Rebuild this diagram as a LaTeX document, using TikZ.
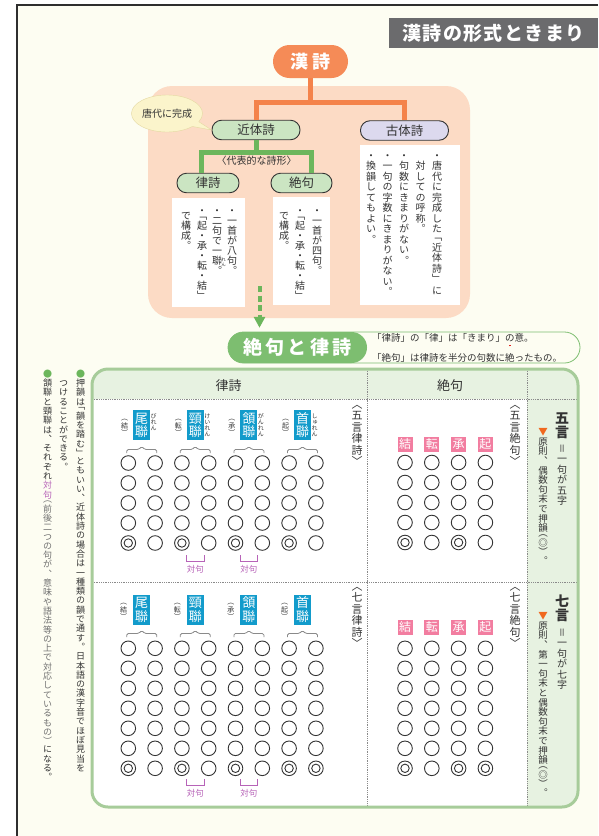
\documentclass[tikz,border=0pt]{standalone}
\usepackage{fontspec}
\setmainfont{Noto Sans CJK JP}
\newfontfamily\tate{Noto Sans CJK JP}[RawFeature=+vert]
\usetikzlibrary{arrows.meta,calc,positioning,shapes.callouts}
\definecolor{Paper}{HTML}{FDFDF2}
\definecolor{Ink}{HTML}{333333}
\definecolor{Frame}{HTML}{2E2E2E}
\definecolor{TitleGray}{HTML}{6B6B6D}
\definecolor{Orange}{HTML}{F4834B}
\definecolor{OrangePill}{HTML}{F58B57}
\definecolor{Peach}{HTML}{FCDBC5}
\definecolor{GreenPill}{HTML}{CBE5C2}
\definecolor{Lilac}{HTML}{DCD9EE}
\definecolor{Green}{HTML}{6CB65C}
\definecolor{GreenBand}{HTML}{7DBE70}
\definecolor{Bubble}{HTML}{FBF4CB}
\definecolor{BubbleEdge}{HTML}{E4D9A2}
\definecolor{TableLine}{HTML}{A7CC9A}
\definecolor{TableHead}{HTML}{E7F2E1}
\definecolor{Blue}{HTML}{129BCB}
\definecolor{Pink}{HTML}{F27DA0}
\definecolor{Purple}{HTML}{B763B8}
\definecolor{Mark}{HTML}{F0681E}
\definecolor{Dot}{HTML}{E3241D}
\definecolor{Muted}{HTML}{8A8A8A}
\definecolor{Soft}{HTML}{707070}

\makeatletter
% vertical (tategaki) text: one glyph per cell
\newdimen\vt@g
\def\vt@end{\vt@end}
\newcommand\vtext[2]{\vbox{\offinterlineskip\vt@g=\dimexpr(#1-1em)/2\relax
  \edef\vt@tmp{#2}\expandafter\vt@loop\vt@tmp\vt@end}}
\def\vt@loop#1{%
  \ifx\vt@end#1\expandafter\@gobble\else\expandafter\@firstofone\fi
  {\ifcat\relax\noexpand#1\expandafter#1\else\vt@char{#1}\expandafter\vt@loop\fi}}
\protected\def\vc#1{\color{#1}\vt@loop}
\protected\def\vsp#1{\kern#1\relax\vt@loop}
\def\vt@char#1{%
  \ifx#1「\vt@open{#1}\else\ifx#1（\vt@open{#1}\else\ifx#1〈\vt@open{#1}\else
  \ifx#1」\vt@close{#1}\else\ifx#1）\vt@close{#1}\else\ifx#1〉\vt@close{#1}\else
  \vt@full{#1}\fi\fi\fi\fi\fi\fi}
\def\vt@full#1{\hbox to1em{\hss\vrule width0pt height\dimexpr.88em+\vt@g\relax depth\dimexpr.12em+\vt@g\relax\smash{#1}\hss}}
\def\vt@open#1{\hbox to1em{\hss\vrule width0pt height.38em depth\dimexpr.12em+\vt@g\relax\smash{#1}\hss}}
\def\vt@close#1{\hbox to1em{\hss\vrule width0pt height\dimexpr.5em+\vt@g\relax depth0pt\lower.38em\hbox{\smash{#1}}\hss}}
% letter spaced line
\newcommand\spaced[2]{\def\sp@k{\kern#1}\sp@first#2\vt@end}
\def\sp@first#1{#1\sp@loop}
\def\sp@loop#1{\ifx\vt@end#1\expandafter\@gobble\else\expandafter\@firstofone\fi{\sp@k#1\sp@loop}}
\makeatother
\newcommand\bouten[1]{\leavevmode\rlap{\hbox to1em{\hss\raisebox{1.6em}{\textcolor{Dot}{\rule{1.7pt}{1.7pt}}}\hss}}#1}

\tikzset{titlebox/.style={fill=TitleGray,text=white,inner sep=0pt,font=\bfseries\fontsize{19}{19}\selectfont},
kanshi/.style={fill=OrangePill,text=white,rounded corners=16.5pt,minimum width=75pt,minimum height=33pt,inner sep=0pt,font=\bfseries\fontsize{18}{18}\selectfont},
pill/.style={draw=Ink,line width=.9pt,rounded corners=9.5pt,minimum height=19.5pt,inner sep=0pt,font=\fontsize{12.5}{12.5}\selectfont},
sheet/.style={fill=white,inner sep=0pt},
bubble/.style={ellipse callout,fill=Bubble,draw=BubbleEdge,line width=.4pt,minimum width=71pt,minimum height=37pt,inner sep=0pt,callout pointer arc=18,font=\fontsize{10}{10}\selectfont},
orangeline/.style={Orange,line width=5pt},
greenline/.style={Green,line width=5pt},
dasharrow/.style={Green,line width=4pt,dash pattern=on 6pt off 3.5pt,-{Triangle[length=11pt,width=11pt]}},
band/.style={fill=GreenBand,text=white,rounded corners=15.5pt,minimum width=139pt,minimum height=31pt,inner sep=0pt,font=\bfseries\fontsize{19}{19}\selectfont},
notebox/.style={draw=GreenBand,fill=Paper,line width=.8pt,rounded corners=15.5pt,minimum width=352pt,minimum height=31pt,inner sep=0pt},
notetext/.style={inner sep=0pt,anchor=west,font=\fontsize{9.5}{9.5}\selectfont},
tate/.style={font=\tate\fontsize{#1}{#1}\selectfont,inner sep=0pt,anchor=north},
ku/.style={draw=Ink,line width=.9pt},
renbox/.style={fill=Blue,text=white,minimum width=17pt,minimum height=30pt,inner sep=0pt,font=\tate\fontsize{13}{13}\selectfont},
kubox/.style={fill=Pink,text=white,minimum size=15pt,inner sep=0pt,font=\fontsize{12}{12}\selectfont},
kakko/.style={Muted,line width=.8pt,rounded corners=1.5pt},
tsui/.style={Purple,line width=.8pt},
tsuitext/.style={Purple,inner sep=0pt,font=\fontsize{8.5}{8.5}\selectfont},
divider/.style={Muted,line width=.8pt,densely dotted},
headtext/.style={inner sep=0pt,font=\fontsize{13}{13}\selectfont}}

\begin{document}
\begin{tikzpicture}[x=1pt,y=-1pt,every node/.append style={text=Ink}]
\useasboundingbox (0,0) rectangle (598,836);
\fill[white] (0,0) rectangle (598,836);
\fill[Paper] (17,5) rectangle (598,836);
\draw[Frame,line width=1.1pt] (17,836) -- (17,5) -- (598,5);
\node[titlebox,minimum width=209pt,minimum height=30pt] (title) at (493.5,33) {\spaced{1.4pt}{漢詩の形式ときまり}};

% upper chart
\fill[Peach,rounded corners=24pt] (148,86) rectangle (470,318);
\node[kanshi] (kanshi) at (310.5,61.5) {\spaced{5pt}{漢詩}};
\node[pill,fill=GreenPill,minimum width=88pt] (kintai) at (256,130) {近体詩};
\node[pill,fill=Lilac,minimum width=88pt] (kotai) at (404.5,130.5) {古体詩};
\node[pill,fill=GreenPill,minimum width=62pt] (ritsushi) at (208,183) {律詩};
\node[pill,fill=GreenPill,minimum width=61pt] (zekku) at (301.5,183) {絶句};
\coordinate (fork) at ($(kanshi.south)+(0,24)$);
\draw[orangeline] (kanshi.south) -- (fork);
\draw[orangeline] (kintai.north) |- (fork) -| (kotai.north);
\coordinate (brL) at (201,152.5);
\coordinate (brR) at (311,152.5);
\draw[greenline] (kintai.south) -- (kintai.south |- brL);
\draw[greenline] (brL |- ritsushi.north) -- (brL) -- (brR) -- (brR |- zekku.north);
\node[inner sep=0pt,font=\fontsize{10}{10}\selectfont] (daihyo) at (256.5,160.5) {〈代表的な詩形〉};
\node[bubble,callout absolute pointer={(kintai.west)}] (bubble) at (167,113.5) {唐代に完成};

\node[sheet,minimum width=73pt,minimum height=109pt] (ritsubox) at (208.5,252.5) {};
\node[sheet,minimum width=57pt,minimum height=108pt] (zekkubox) at (301.5,251) {};
\node[sheet,minimum width=100pt,minimum height=160pt] (kotaibox) at (410,225) {};
\node[tate=10] (r1) at (232,205) {\vtext{10pt}{・一首が八句。}};
\node[tate=10] (r2) at (217,205) {\vtext{10pt}{・二句で一聯。}};
\node[tate=4.5] (r2ruby) at (223.5,257) {\vtext{5pt}{れん}};
\node[tate=10] (r3) at (202,205) {\vtext{10pt}{・「起・承・転・結」}};
\node[tate=10] (r4) at (186,210) {\vtext{10pt}{で構成。}};
\node[tate=10] (z1) at (317,205) {\vtext{10pt}{・一首が四句。}};
\node[tate=10] (z2) at (300,205) {\vtext{10pt}{・「起・承・転・結」}};
\node[tate=10] (z3) at (284,210) {\vtext{10pt}{で構成。}};
\node[tate=10] (k1) at (437,150) {\vtext{10.5pt}{・唐代に完成した\vsp{2.6pt}「近体詩」\vsp{2.6pt}に}};
\node[tate=10] (k2) at (420.5,160.5) {\vtext{10.5pt}{対しての呼称。}};
\node[tate=10] (k3) at (404,150) {\vtext{10.5pt}{・句数にきまりがない。}};
\node[tate=10] (k4) at (387.5,150) {\vtext{10.5pt}{・一句の字数にきまりがない。}};
\node[tate=10] (k5) at (371,150) {\vtext{10.5pt}{・換韻してもよい。}};
\coordinate (arrowtop) at (259.5,286);

% band
\node[notebox] (note) at (404,347.5) {};
\node[band] (band) at (297.5,347.5) {\spaced{3.5pt}{絶句と律詩}};
\draw[dasharrow] (arrowtop) -- ($(arrowtop |- band.north)+(0,-4)$);
\node[notetext] (note1) at (372,338) {「律詩」の「律」は「きまり」の意。};
\node[notetext] (note2) at (372,353.5) {「絶句」は律詩を半分の句数に\bouten{絶}ったもの。};

% table
\begin{scope}
\clip[rounded corners=16pt] (92,369) rectangle (578,807);
\fill[white] (92,369) rectangle (578,807);
\fill[TableHead] (92,369) rectangle (578,399);
\fill[TableHead] (527,399) rectangle (578,807);
\end{scope}
\draw[divider] (92,399) -- (578,399);
\draw[divider] (92,582) -- (578,582);
\draw[divider] (367,369) -- (367,807);
\draw[divider] (527,369) -- (527,807);
\draw[TableLine,line width=3pt,rounded corners=16pt] (92,369) rectangle (578,807);
\node[headtext] (hritsu) at (228.5,386) {律詩};
\node[headtext] (hzekku) at (450,386) {絶句};

% 五言律詩
\node[tate=11] (gorl) at (357,404) {\vtext{11.5pt}{〈五言律詩〉}};
\foreach \ren/\yomi/\kuname [count=\i from 0] in {尾聯/びれん/結,頸聯/けいれん/転,頷聯/がんれん/承,首聯/しゅれん/起}{
  \node[renbox] (gren\i) at ({141.7+53.6*\i},425) {\vtext{13.5pt}{\ren}};
  \node[tate=7] (gku\i) at ({124.7+53.6*\i},418) {\vtext{7.5pt}{（\kuname）}};
  \node[tate=6] (gyomi\i) at ({153.7+53.6*\i},413) {\vtext{6pt}{\yomi}};
  \draw[kakko] ({126.7+53.6*\i},453) -- ++(0,-3.5) -- ++(12,0) -- ++(3,-3) -- ++(3,3) -- ++(12,0) -- ++(0,3.5);
}
\foreach \c in {0,...,7}
  \foreach \r in {0,...,4}
    \draw[ku] ({128.3+26.8*\c},{463+20*\r}) circle (7.3pt);
\foreach \c in {0,2,4,6}
  \draw[ku] ({128.3+26.8*\c},543) circle (4.2pt);
\foreach \x [count=\i] in {195.3,248.9}{
  \draw[tsui] ({\x-8.8},555) -- ({\x-8.8},561.5) -- ({\x+8.8},561.5) -- ({\x+8.8},555);
  \node[tsuitext] (gtsui\i) at (\x,569.5) {対句};
}

% 五言絶句
\node[tate=11] (gozk) at (515,404) {\vtext{11.5pt}{〈五言絶句〉}};
\foreach \k [count=\i from 0] in {結,転,承,起}
  \node[kubox] (gzk\i) at ({405+26.8*\i},444) {\k};
\foreach \c in {0,...,3}
  \foreach \r in {0,...,4}
    \draw[ku] ({405+26.8*\c},{462.5+20*\r}) circle (7.3pt);
\foreach \c in {0,2}
  \draw[ku] ({405+26.8*\c},542.5) circle (4.2pt);

% 七言律詩
\node[tate=11] (shrl) at (357,586) {\vtext{11.5pt}{〈七言律詩〉}};
\foreach \ren/\kuname [count=\i from 0] in {尾聯/結,頸聯/転,頷聯/承,首聯/起}{
  \node[renbox] (sren\i) at ({141.7+53.6*\i},609.5) {\vtext{13.5pt}{\ren}};
  \node[tate=7] (sku\i) at ({123.7+53.6*\i},602) {\vtext{7.5pt}{（\kuname）}};
  \draw[kakko] ({126.7+53.6*\i},637) -- ++(0,-3.5) -- ++(12,0) -- ++(3,-3) -- ++(3,3) -- ++(12,0) -- ++(0,3.5);
}
\foreach \c in {0,...,7}
  \foreach \r in {0,...,6}
    \draw[ku] ({128.3+26.8*\c},{648.3+20*\r}) circle (7.3pt);
\foreach \c in {0,2,4,6,7}
  \draw[ku] ({128.3+26.8*\c},768.3) circle (4.2pt);
\foreach \x [count=\i] in {195.3,248.9}{
  \draw[tsui] ({\x-8.8},779) -- ({\x-8.8},785.5) -- ({\x+8.8},785.5) -- ({\x+8.8},779);
  \node[tsuitext] (stsui\i) at (\x,793) {対句};
}

% 七言絶句
\node[tate=11] (shzk) at (515,586) {\vtext{11.5pt}{〈七言絶句〉}};
\foreach \k [count=\i from 0] in {結,転,承,起}
  \node[kubox] (szk\i) at ({405+26.8*\i},627) {\k};
\foreach \c in {0,...,3}
  \foreach \r in {0,...,6}
    \draw[ku] ({405+26.8*\c},{648.3+20*\r}) circle (7.3pt);
\foreach \c in {0,2,3}
  \draw[ku] ({405+26.8*\c},768.3) circle (4.2pt);

% right column
\node[tate=14,font=\tate\bfseries\fontsize{14}{14}\selectfont] (gogon) at (562,411) {\vtext{14pt}{五言}};
\node[tate=10] (godef) at (562,443) {\vtext{10.5pt}{＝一句が五字}};
\node[tate=9.5] (gorule) at (543,427) {\vtext{9.6pt}{\vc{Mark}▼\vc{Ink}原則、偶数句末で押韻（◎）。}};
\node[tate=14,font=\tate\bfseries\fontsize{14}{14}\selectfont] (shichigon) at (562,594) {\vtext{14pt}{七言}};
\node[tate=10] (shdef) at (562,627) {\vtext{10.5pt}{＝一句が七字}};
\node[tate=9.5] (shrule) at (543,611) {\vtext{9.6pt}{\vc{Mark}▼\vc{Ink}原則、第一句末と偶数句末で押韻（◎）。}};

% margin notes
\node[tate=9] (side1) at (80.5,369) {\vtext{9.3pt}{\vc{Green}●\vc{Ink}押韻は「韻を踏む」ともいい、近体詩の場合は一種類の韻で通す。日本語の漢字音でほぼ見当を}};
\node[tate=9] (side2) at (63.5,378.3) {\vtext{9.3pt}{つけることができる。}};
\node[tate=9] (side3) at (47.5,369) {\vtext{9.3pt}{\vc{Green}●\vc{Ink}頷聯と頸聯は、それぞれ\vc{Purple}対句\vc{Soft}（前後二つの句が、意味や語法等の上で対応しているもの）\vc{Ink}になる。}};
\end{tikzpicture}
\end{document}
